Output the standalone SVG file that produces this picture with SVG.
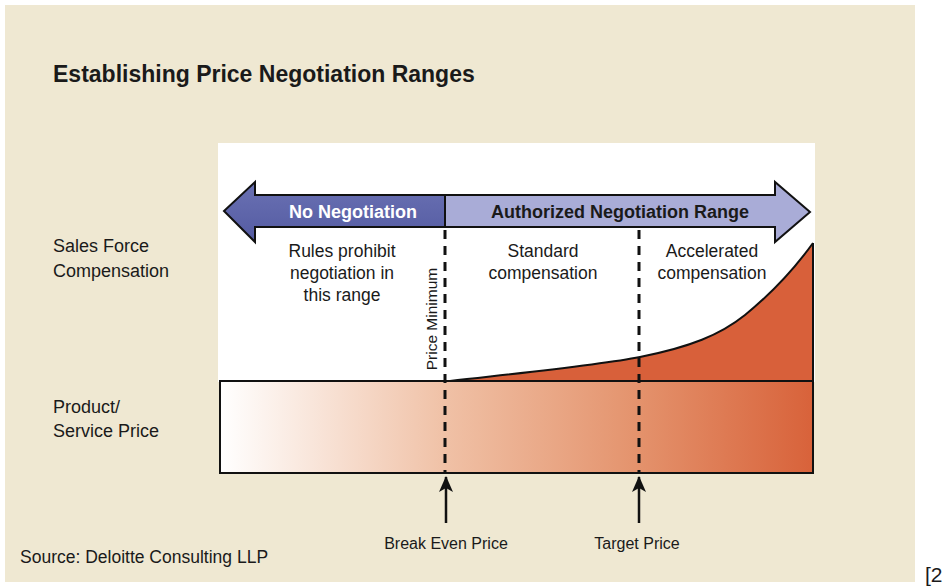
<svg xmlns="http://www.w3.org/2000/svg" width="946" height="588" viewBox="0 0 946 588">
<defs>
<style>
text{font-family:"Liberation Sans",Arial,sans-serif;fill:#1a1a1a}
.lbl{font-size:18px}
.sm{font-size:17.5px;text-anchor:middle}
.bot{font-size:16px;text-anchor:middle}
.dash{stroke:#111;stroke-width:3;stroke-dasharray:9 7;fill:none}
.up{stroke:#111;stroke-width:2.5;fill:none}
</style>
<linearGradient id="barg" x1="0" y1="0" x2="1" y2="0">
<stop offset="0" stop-color="#ffffff"/>
<stop offset="0.38" stop-color="#f0c1a6"/>
<stop offset="0.7" stop-color="#e4936d"/>
<stop offset="1" stop-color="#d8623a"/>
</linearGradient>
<linearGradient id="darkb" x1="0" y1="0" x2="0" y2="1">
<stop offset="0" stop-color="#6a71b3"/>
<stop offset="1" stop-color="#545ba2"/>
</linearGradient>
<marker id="ah" viewBox="0 0 16 14" refX="15" refY="7" markerWidth="16" markerHeight="14" markerUnits="userSpaceOnUse" orient="auto">
<path d="M16,7 L0,0 L4,7 L0,14 Z" fill="#111"/>
</marker>
</defs>
<rect x="0" y="0" width="946" height="588" fill="#ffffff"/>
<rect x="5" y="5" width="910" height="577" fill="#efe8d2"/>
<text x="53" y="82" style="font-size:23px;font-weight:bold">Establishing Price Negotiation Ranges</text>

<g id="chart-area">
<rect x="218" y="143" width="597" height="239" fill="#ffffff"/>
</g>

<g id="price-bar">
<rect x="220" y="381" width="593" height="92" fill="url(#barg)" stroke="#111" stroke-width="2"/>
</g>

<g id="compensation-curve">
<path d="M450,381 C530,372 600,365 640,357 C690,347 720,335 745,315 C772,293 795,268 813,243 L813,381 Z" fill="#d8603a"/>
<path d="M450,381 C530,372 600,365 640,357 C690,347 720,335 745,315 C772,293 795,268 813,243" fill="none" stroke="#111" stroke-width="2"/>
<line x1="813" y1="243" x2="813" y2="381" stroke="#111" stroke-width="2"/>
<line x1="220" y1="381" x2="813" y2="381" stroke="#111" stroke-width="2"/>
</g>

<g id="no-negotiation">
<path d="M445,195 L255,195 L255,182 L224,211 L255,242 L255,227 L445,227 Z" fill="url(#darkb)" stroke="#111" stroke-width="2" stroke-linejoin="miter"/>
<text x="353" y="218" style="font-size:18px;font-weight:bold;fill:#ffffff;text-anchor:middle">No Negotiation</text>
</g>

<g id="authorized-range">
<path d="M445,195 L775,195 L775,182 L810,212 L775,242 L775,227 L445,227 Z" fill="#a9acd7" stroke="#111" stroke-width="2" stroke-linejoin="miter"/>
<text x="620" y="218" style="font-size:18px;font-weight:bold;text-anchor:middle">Authorized Negotiation Range</text>
</g>

<g id="labels-left">
<text class="lbl" x="53" y="252">Sales Force</text>
<text class="lbl" x="53" y="277">Compensation</text>
<text class="lbl" x="53" y="413">Product/</text>
<text class="lbl" x="53" y="437">Service Price</text>
</g>

<g id="zone-texts">
<text class="sm" x="342" y="257">Rules prohibit</text>
<text class="sm" x="342" y="279">negotiation in</text>
<text class="sm" x="342" y="301">this range</text>
<text class="sm" x="543" y="257">Standard</text>
<text class="sm" x="543" y="279">compensation</text>
<text class="sm" x="712" y="257">Accelerated</text>
<text class="sm" x="712" y="279">compensation</text>
<text x="437" y="319" transform="rotate(-90 437 319)" style="font-size:15.5px;text-anchor:middle">Price Minimum</text>
</g>

<g id="connectors">
<line class="dash" x1="445" y1="230" x2="445" y2="473"/>
<line class="dash" x1="639" y1="230" x2="639" y2="473"/>
<line class="up" x1="446" y1="523" x2="446" y2="477" marker-end="url(#ah)"/>
<line class="up" x1="639" y1="523" x2="639" y2="477" marker-end="url(#ah)"/>
</g>

<g id="price-labels">
<text class="bot" x="446" y="549">Break Even Price</text>
<text class="bot" x="637" y="549">Target Price</text>
</g>
<text x="20" y="563" style="font-size:17.5px">Source: Deloitte Consulting LLP</text>
<text x="925" y="582" style="font-size:21px">[2</text>
</svg>
